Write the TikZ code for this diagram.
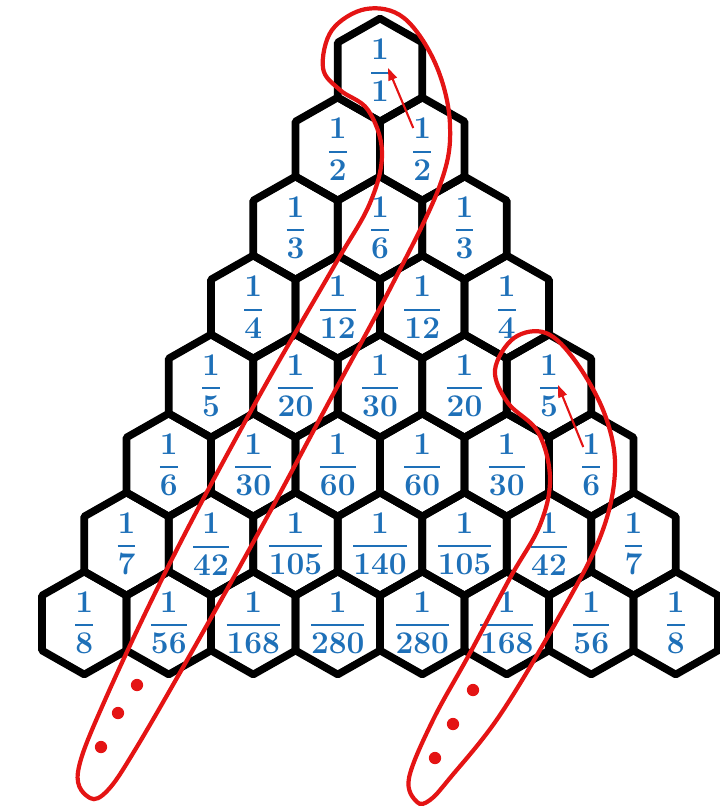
\documentclass[tikz,border=0pt]{standalone}
\usepackage{fontspec}
\usepackage{amsmath}
\usepackage{xcolor}
\usepackage{tikz}
\usetikzlibrary{calc, arrows.meta}

\definecolor{fracblue}{RGB}{30,112,184}
\definecolor{loopred}{RGB}{228,20,20}

\begin{document}
\begin{tikzpicture}[x=0.02cm, y=-0.02cm,
    hexline/.style={line width=4.3pt, line join=round},
    frac/.style={inner sep=0pt, text=fracblue, font=\fontsize{18}{20}\selectfont\bfseries},
    loopline/.style={draw=loopred, line width=2.4pt},
    backarrow/.style={draw=loopred, line width=1.2pt, -{Triangle[length=7pt, width=5pt]}},
    dot/.style={circle, fill=loopred, inner sep=0pt, minimum size=7pt}]
  \useasboundingbox (0,0) rectangle (720,809);

  % honeycomb, row r holds 1/(r*C(r-1,k-1))
  \foreach \r/\dens in {1/{1}, 2/{2,2}, 3/{3,6,3}, 4/{4,12,12,4}, 5/{5,20,30,20,5},
      6/{6,30,60,60,30,6}, 7/{7,42,105,140,105,42,7}, 8/{8,56,168,280,280,168,56,8}}{
    \foreach \d [count=\k] in \dens {
      \pgfmathsetmacro\cx{380+(\k-(\r+1)/2)*84.5}
      \pgfmathsetmacro\cy{70+(\r-1)*79}
      \draw[hexline] (\cx,\cy) ++(0,-51.5) -- ++(42.25,24) -- ++(0,55) -- ++(-42.25,24)
        -- ++(-42.25,-24) -- ++(0,-55) -- cycle;
      \node[frac] (h-\r-\k) at (\cx,\cy) {$\genfrac{}{}{1.1pt}{0}{\textbf{1}}{\textbf{\d}}$};
    }
  }

  % left loop
  \draw[loopline] plot[smooth cycle, tension=0.6] coordinates {
    (90,798) (78,772) (105,700) (173,557) (257,400) (333,268) (370,203)
    (382,152) (368,110) (340,90) (323,68) (332,30) (366,9) (404,18)
    (436,65) (450,125) (440,185) (393,283) (330,400) (260,530) (190,655)
    (135,750) (108,790)};
  \node[dot] (la) at (137,685) {};
  \node[dot] (lb) at (118,713) {};
  \node[dot] (lc) at (101,747) {};

  % right loop
  \draw[loopline] plot[smooth cycle, tension=0.6] coordinates {
    (417,802) (409,778) (433,720) (470,653) (510,578) (540,525) (550,478)
    (538,432) (508,403) (495,370) (514,338) (546,333) (576,362) (605,415)
    (615,470) (601,535) (560,615) (500,715) (450,778) (430,800)};
  \node[dot] (ra) at (473,690) {};
  \node[dot] (rb) at (453,724) {};
  \node[dot] (rc) at (435,758) {};

  % arrows back to the top of each diagonal
  \draw[backarrow] ($(h-2-2)+(-9,-21)$) -- ($(h-1-1)+(8,-2)$);
  \draw[backarrow] ($(h-6-6)+(-8,-18)$) -- ($(h-5-5)+(9,-1)$);
\end{tikzpicture}
\end{document}
